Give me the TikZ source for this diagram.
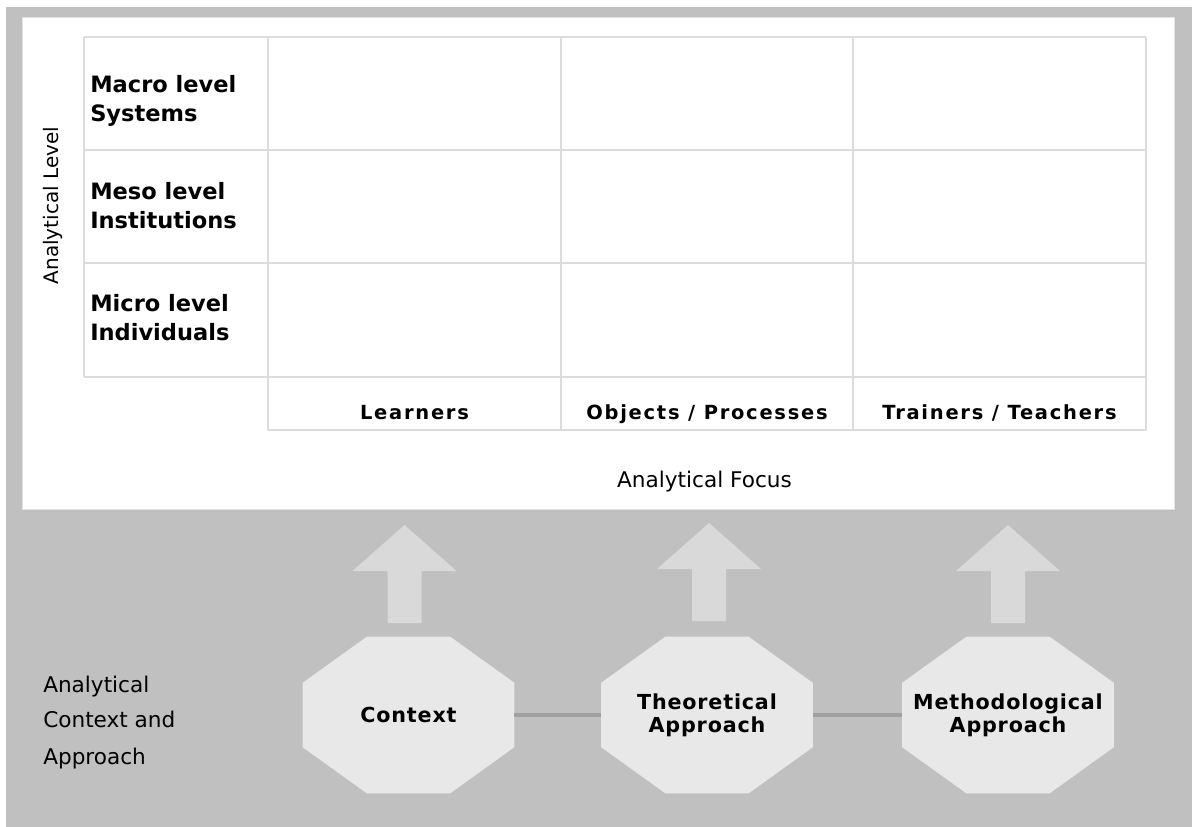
\documentclass[tikz,border=0pt]{standalone}
\usepackage{fontspec}
\setmainfont{DejaVu Sans}
\newfontfamily\spacedfont{DejaVu Sans}[LetterSpace=9]
\newfontfamily\octfont{DejaVu Sans}[LetterSpace=4]
\usetikzlibrary{calc}
\pgfdeclarelayer{back}
\pgfdeclarelayer{mid}
\pgfsetlayers{back,mid,main}

\definecolor{framegray}{HTML}{C0C0C0}
\definecolor{paneledge}{HTML}{E2E2E2}
\definecolor{gridgray}{HTML}{DCDCDC}
\definecolor{arrowgray}{HTML}{D9D9D9}
\definecolor{octgray}{HTML}{E8E8E8}
\definecolor{linkgray}{HTML}{A0A0A0}

% block arrow pointing up: #1 = axis x, #2 = tip y
\newcommand\blockarrowup[2]{%
  \fill[arrowgray] (#1,#2) -- (#1+52,#2+46) -- (#1+17,#2+46) -- (#1+17,#2+98)
    -- (#1-17,#2+98) -- (#1-17,#2+46) -- (#1-52,#2+46) -- cycle;}

\begin{document}
\begin{tikzpicture}[x=0.75pt,y=-0.75pt,
  grid/.style={draw=gridgray,line width=1.2pt},
  rowlabel/.style={anchor=base west,inner sep=0pt,
    font={\bfseries\fontsize{16.9}{20}\selectfont}},
  colhead/.style={anchor=base,inner sep=0pt,
    font={\spacedfont\bfseries\fontsize{14.6}{17}\selectfont}},
  plainlabel/.style={inner sep=0pt,font={\fontsize{16.2}{20}\selectfont}},
  octnode/.style={minimum width=158.25pt,minimum height=117pt,inner sep=0pt,
    align=center,font={\octfont\bfseries\fontsize{15.5}{17}\selectfont}},
  link/.style={draw=linkgray,line width=3pt}]

\useasboundingbox (0,0) rectangle (1192,827);

\begin{pgfonlayer}{back}
  \fill[framegray] (6,7) rectangle (1192,827);
  \filldraw[fill=white,draw=paneledge,line width=0.75pt] (22,18) rectangle (1174,509);
\end{pgfonlayer}

% table grid
\draw[grid] (84,37) -- (1146,37);
\draw[grid] (84,150) -- (1146,150);
\draw[grid] (84,263) -- (1146,263);
\draw[grid] (84,377) -- (1146,377);
\draw[grid] (268,430) -- (1146,430);
\draw[grid] (84,37) -- (84,377);
\draw[grid] (268,37) -- (268,430);
\draw[grid] (561,37) -- (561,430);
\draw[grid] (853,37) -- (853,430);
\draw[grid] (1146,37) -- (1146,430);

% level labels
\node[rowlabel] (macroA) at (90,93) {Macro level};
\node[rowlabel] (macroB) at (90,122) {Systems};
\node[rowlabel] (mesoA) at (90,200) {Meso level};
\node[rowlabel] (mesoB) at (90,228.5) {Institutions};
\node[rowlabel] (microA) at (90,311) {Micro level};
\node[rowlabel] (microB) at (90,340) {Individuals};

% focus labels
\node[colhead] (learners) at (414.5,419) {Learners};
\node[colhead] (objects) at (707,419) {Objects / Processes};
\node[colhead] (trainers) at (999.5,419) {Trainers / Teachers};

% axis titles
\node[plainlabel,anchor=base] (focus) at (704.5,487) {Analytical Focus};
\node[plainlabel,anchor=base,rotate=90,font={\fontsize{15}{18}\selectfont}] (level) at (58.5,205.5) {Analytical Level};
\node[plainlabel,anchor=base west] (ctxA) at (43,692) {Analytical};
\node[plainlabel,anchor=base west] (ctxB) at (43,727.5) {Context and};
\node[plainlabel,anchor=base west] (ctxC) at (43,764) {Approach};

% approach octagons
\node[octnode] (ctx) at (408.5,715) {Context};
\node[octnode] (theo) at (707,715) {Theoretical\\Approach};
\node[octnode] (meth) at (1008,715) {Methodological\\Approach};

\begin{pgfonlayer}{mid}
  \foreach \n in {ctx,theo,meth}{
    \fill[octgray] ($(\n.north west)+(64,0)$) -- ($(\n.north east)+(-64,0)$)
      -- ($(\n.north east)+(0,46)$) -- ($(\n.south east)+(0,-46)$)
      -- ($(\n.south east)+(-64,0)$) -- ($(\n.south west)+(64,0)$)
      -- ($(\n.south west)+(0,-46)$) -- ($(\n.north west)+(0,46)$) -- cycle;
  }
  \blockarrowup{404.5}{525}
  \blockarrowup{709}{523}
  \blockarrowup{1008}{525}
\end{pgfonlayer}

\draw[link] (ctx.east) -- (theo.west);
\draw[link] (theo.east) -- (meth.west);

\end{tikzpicture}
\end{document}
